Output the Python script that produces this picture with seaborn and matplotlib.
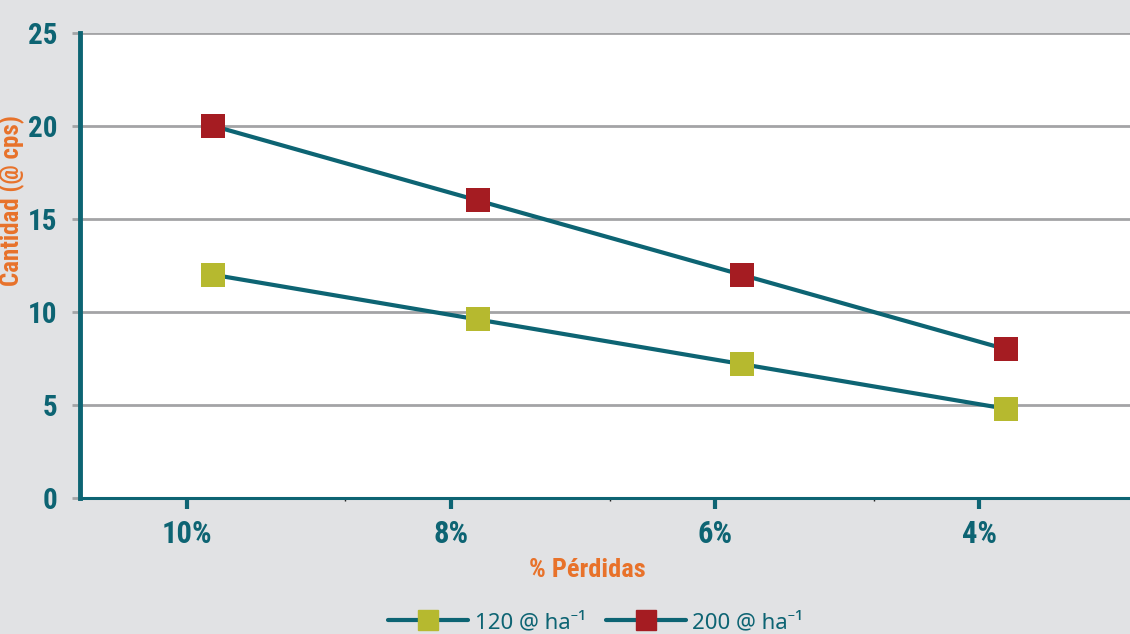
import numpy as np
import pandas as pd
import matplotlib
matplotlib.use("Agg")
import matplotlib.pyplot as plt
from matplotlib.lines import Line2D
from matplotlib.ticker import FixedLocator
from matplotlib import font_manager
import seaborn as sns

# Data
categorias = ["10%", "8%", "6%", "4%"]
serie_120 = [12.0, 9.6, 7.2, 4.8]
serie_200 = [20.0, 16.0, 12.0, 8.0]
nombres = ["120 @ ha⁻¹", "200 @ ha⁻¹"]
y_ticks = [0, 5, 10, 15, 20, 25]

TEAL = "#0d6473"
BG = "#e1e2e4"
ORANGE = "#e8722a"
COLORS = ["#b6b92f", "#a51c22"]
GRID = "#a3a4a6"

sns.set_theme(style="white")
installed = {f.name for f in font_manager.fontManager.ttflist}
narrow = next((n for n in ["Liberation Sans Narrow", "Roboto Condensed",
                           "DejaVu Sans"] if n in installed), "DejaVu Sans")
plt.rcParams["font.family"] = [narrow, "DejaVu Sans"]
plt.rcParams["font.stretch"] = "condensed"

cond = dict(fontweight="bold", fontstretch="condensed")

df = pd.DataFrame({
    "pos": list(range(len(categorias))) * 2,
    "valor": serie_120 + serie_200,
    "serie": [nombres[0]] * 4 + [nombres[1]] * 4,
})

fig = plt.figure(figsize=(11.3, 6.34), dpi=100, facecolor=BG)
ax = fig.add_axes([80 / 1130, 1 - 498 / 634, 1 - 80 / 1130, (498 - 33) / 634])
ax.set_facecolor("white")

sns.lineplot(data=df, x="pos", y="valor", units="serie", estimator=None,
             color=TEAL, lw=3, ax=ax, legend=False, zorder=3)
sns.scatterplot(data=df, x="pos", y="valor", hue="serie", palette=COLORS,
                marker="s", s=300, edgecolor="none", ax=ax, legend=False,
                zorder=4)

ax.set_xlim(-0.505, 3.47)
ax.set_ylim(0, 25)

# Horizontal grid
ax.set_yticks(y_ticks)
ax.set_yticklabels([str(v) for v in y_ticks], **cond)
ax.yaxis.grid(True, color=GRID, lw=2)
ax.xaxis.grid(False)
ax.tick_params(axis="y", which="major", length=6, width=2, color=GRID,
               left=True, pad=10, labelsize=21, labelcolor=TEAL)

# Category ticks and separators
ax.set_xticks([i - 0.1 for i in range(len(categorias))])
ax.set_xticklabels(categorias, **cond)
ax.xaxis.set_minor_locator(FixedLocator([i + 0.5 for i in range(len(categorias) - 1)]))
ax.tick_params(axis="x", which="major", length=8, width=3, color=TEAL,
               bottom=True, pad=7, labelsize=22, labelcolor=TEAL)
ax.tick_params(axis="x", which="minor", length=2, width=1, color="#222222",
               bottom=True)

for s in ["top", "right"]:
    ax.spines[s].set_visible(False)
ax.spines["left"].set_color(TEAL)
ax.spines["left"].set_linewidth(3.5)
ax.spines["bottom"].set_color(TEAL)
ax.spines["bottom"].set_linewidth(2.2)

ax.set_xlabel("% Pérdidas", color=ORANGE, fontsize=19, **cond)
ax.xaxis.set_label_coords(0.483, -0.13)
ax.set_ylabel("Cantidad (@ cps)", color=ORANGE, fontsize=18, **cond)
ax.yaxis.set_label_coords(-0.052, 0.64)

handles = [
    Line2D([0], [0], color=TEAL, lw=3, marker="s", markersize=15,
           markerfacecolor=c, markeredgecolor=c)
    for c in COLORS
]
fig.legend(handles, nombres, loc="lower center", bbox_to_anchor=(0.527, -0.03),
           ncol=2, frameon=False, handlelength=3.6, columnspacing=0.9,
           handletextpad=0.3,
           prop={"family": ["Noto Sans", "DejaVu Sans"], "size": 16,
                 "weight": "medium", "stretch": "normal"},
           labelcolor=TEAL)

fig.savefig("out.png", dpi=100, facecolor=BG)
